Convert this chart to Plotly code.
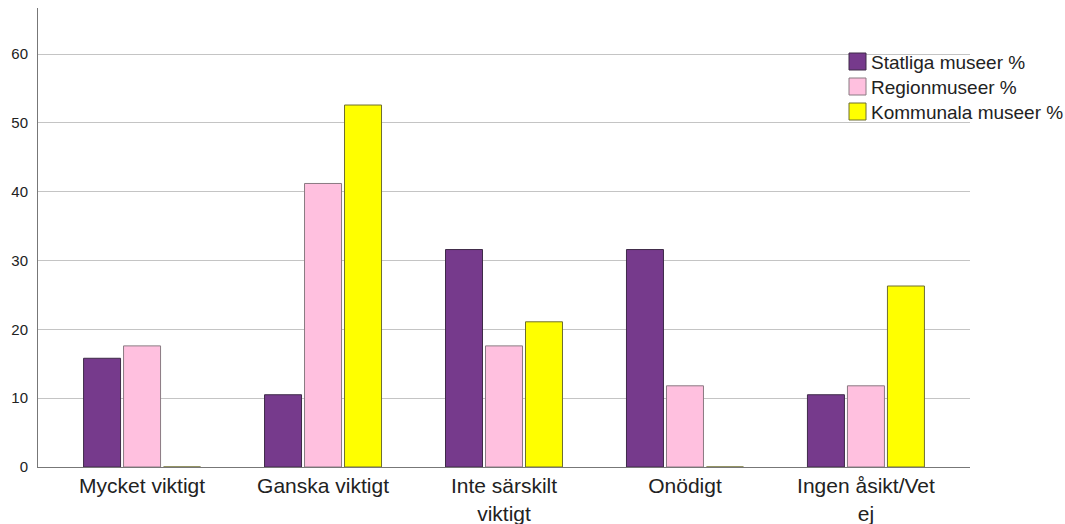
import plotly.graph_objects as go

categories = ["Mycket viktigt", "Ganska viktigt", "Inte särskilt<br>viktigt", "Onödigt", "Ingen åsikt/Vet<br>ej"]
statliga = [15.8, 10.5, 31.6, 31.6, 10.5]
region = [17.6, 41.2, 17.6, 11.8, 11.8]
kommunala = [0, 52.6, 21.1, 0, 26.3]
series_names = ["Statliga museer %", "Regionmuseer %", "Kommunala museer %"]
colors = ["#763a8c", "#ffc0df", "#ffff00"]
outlines = ["#3e2a48", "#8a7a82", "#6e6e30"]
yticks = [0, 10, 20, 30, 40, 50, 60]

W, H = 1065, 524
ML, MR, MT, MB = 38, 95, 8, 57
PW, PH = W - ML - MR, H - MT - MB


def px_x(px):
    return (px - ML) / PW


def px_y(py):
    return (H - MB - py) / PH


fig = go.Figure()
for name, vals, c, oc in zip(series_names, [statliga, region, kommunala], colors, outlines):
    fig.add_trace(go.Bar(x=categories, y=vals, name=name, showlegend=False,
                         marker=dict(color=c, line=dict(color=oc, width=1))))

# custom legend (swatch + label), laid out like the reference
shapes, annotations = [], []
for i, (name, c, oc) in enumerate(zip(series_names, colors, outlines)):
    top = 53 + i * 25
    shapes.append(dict(type="rect", xref="paper", yref="paper",
                       x0=px_x(849), x1=px_x(866), y0=px_y(top + 17), y1=px_y(top),
                       fillcolor=c, line=dict(color=oc, width=1)))
    annotations.append(dict(text=name, xref="paper", yref="paper",
                            x=px_x(869), y=px_y(top + 9.5), xanchor="left", yanchor="middle",
                            showarrow=False, font=dict(size=19, color="#222")))

fig.update_layout(
    width=W, height=H,
    margin=dict(l=ML, r=MR, t=MT, b=MB),
    paper_bgcolor="white", plot_bgcolor="white",
    barmode="group", bargap=0.337, bargroupgap=0.075,
    font=dict(family="Liberation Sans, Arial, sans-serif", color="#222"),
    showlegend=False,
    shapes=shapes, annotations=annotations,
)
fig.update_xaxes(range=[-0.575, 4.575], showline=True, linecolor="#777", linewidth=1,
                 ticks="", tickfont=dict(size=21, color="#222"), showgrid=False,
                 automargin=False)
fig.update_yaxes(range=[0, 66.7], tickvals=yticks, showline=True, linecolor="#777", linewidth=1,
                 gridcolor="#c4c4c4", gridwidth=1, zeroline=False,
                 tickfont=dict(size=15, color="#222"), ticks="", automargin=False,
                 ticklabelstandoff=6)

fig.write_html("out.html", config={"displayModeBar": False},
               post_script="document.body.style.margin='0';document.body.style.overflow='hidden';")
